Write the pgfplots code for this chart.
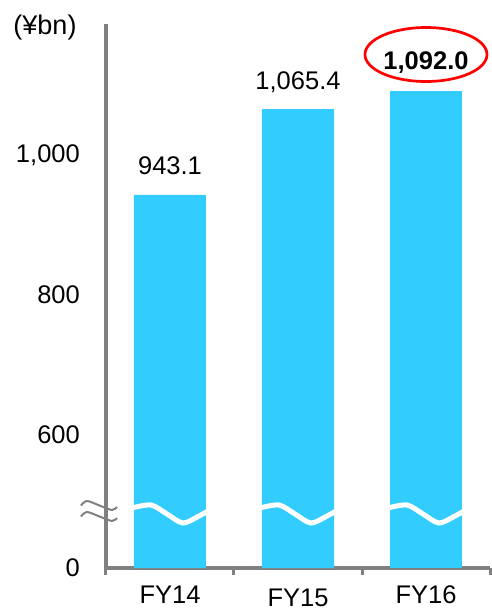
\documentclass[border=0pt]{standalone}
\usepackage{fontspec}
\setmainfont{Liberation Sans}
\usepackage{pgfplots}
\pgfplotsset{compat=1.18}
\usetikzlibrary{shapes.geometric}
\definecolor{barblue}{HTML}{33CCFF}
\definecolor{axisgray}{HTML}{808080}
\begin{document}
\fontsize{25.5}{30}\selectfont
\begin{tikzpicture}[font=\fontsize{25.5}{30}\selectfont]
\begin{axis}[
  scale only axis, width=384pt, height=544pt,
  xmin=-0.5, xmax=2.5, ymin=0, ymax=1187,
  y coord trafo/.code={\pgfmathparse{#1<300 ? #1 : #1-410}},
  y coord inv trafo/.code={\pgfmathparse{#1<190 ? #1 : #1+410}},
  axis lines=left,
  axis line style={-, draw=axisgray, line width=3.5pt},
  xtick={0,1,2}, xticklabels={FY14,\raisebox{-3pt}{FY15},FY16},
  ytick={0,600,800,1000}, yticklabels={0,600,800,{1,000}},
  major tick length=0pt,
  xticklabel style={anchor=base, inner sep=0pt, yshift=-35.5pt},
  yticklabel style={anchor=east, inner sep=0pt, xshift=-26pt},
  extra x ticks={-0.5,0.5,1.5,2.5}, extra x tick labels={},
  extra x tick style={tick align=outside, major tick length=7pt, tick style={draw=axisgray, line width=3pt}},
  ybar, bar width=0.5625, bar shift=0pt,
  clip=false,
  point meta=explicit,
  /pgf/number format/.cd, fixed, fixed zerofill, precision=1, 1000 sep={,}, assume math mode=true,
]
\addplot[fill=barblue, draw=none, nodes near coords,
  every node near coord/.append style={anchor=base, inner sep=0pt, yshift=20pt, text=black}]
  coordinates {(0,943.1) [943.1] (1,1065.4) [1065.4]};
\addplot[fill=barblue, draw=none, nodes near coords,
  every node near coord/.append style={anchor=base, ellipse, draw=red, line width=2.7pt, inner sep=0pt,
    minimum width=122pt, minimum height=54pt, text height=30pt, text depth=0pt, yshift=21pt,
    text=black, font=\bfseries\fontsize{25.5}{30}\selectfont}]
  coordinates {(2,1092.0) [1092.0]};
\coordinate (o) at (axis cs:-0.5,0);
\coordinate (b0) at (axis cs:0,0);
\coordinate (b1) at (axis cs:1,0);
\coordinate (b2) at (axis cs:2,0);
\end{axis}
\foreach \b in {b0,b1,b2}
  \draw[white, line width=5pt, shift={(\b)}] plot[smooth] coordinates {(-38pt,60pt) (-19pt,63pt) (-3pt,54pt) (13pt,45pt) (29pt,52pt) (38pt,57pt)};
\foreach \dy in {0pt,-11pt}
  \draw[axisgray, line width=2pt, shift={(o)}, yshift=\dy] plot[smooth] coordinates {(-25pt,62.5pt) (-19pt,67pt) (-6.5pt,62.5pt) (6pt,58pt) (11pt,61pt)};
\node[font=\fontsize{27}{30}\selectfont] at ([shift={(-61pt,540.5pt)}]o) {(¥bn)};
\pgfresetboundingbox
\path ([shift={(-106pt,-43pt)}]o) rectangle ([shift={(386pt,568pt)}]o);
\end{tikzpicture}
\end{document}
